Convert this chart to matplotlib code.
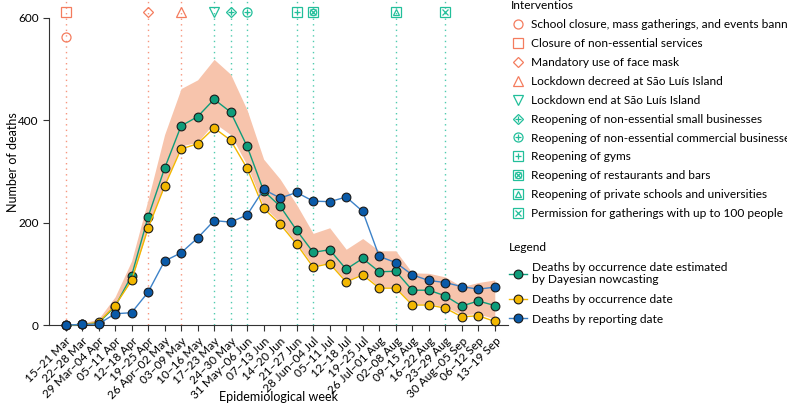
import matplotlib

matplotlib.use("Agg")
import matplotlib.pyplot as plt
from matplotlib.lines import Line2D

plt.rcParams["font.family"] = ["Lato", "DejaVu Sans"]

weeks = ["15–21 Mar", "22–28 Mar", "29 Mar–04 Apr", "05–11 Apr", "12–18 Apr", "19–25 Apr",
         "26 Apr–02 May", "03–09 May", "10–16 May", "17–23 May", "24–30 May", "31 May–06 Jun",
         "07–13 Jun", "14–20 Jun", "21–27 Jun", "28 Jun–04 Jul", "05–11 Jul", "12–18 Jul",
         "19–25 Jul", "26 Jul–01 Aug", "02–08 Aug", "09–15 Aug", "16–22 Aug", "23–29 Aug",
         "30 Aug–05 Sep", "06–12 Sep", "13–19 Sep"]

nowcast = [0, 1, 4, 36, 96, 211, 306, 389, 407, 441, 416, 349, 262, 232, 185, 142, 147, 109,
           130, 104, 105, 68, 68, 57, 37, 47, 38]
occurrence = [0, 1, 5, 38, 87, 189, 271, 344, 354, 385, 361, 306, 228, 197, 158, 113, 120, 84,
              98, 72, 72, 39, 39, 33, 16, 18, 7]
reporting = [0, 1, 2, 22, 24, 64, 125, 141, 170, 204, 201, 215, 265, 248, 259, 242, 241, 250,
             222, 134, 122, 98, 87, 83, 75, 70, 74]
band_lo = [0, 1, 5, 38, 88, 190, 275, 350, 357, 395, 372, 312, 232, 200, 160, 116, 122, 86,
           101, 74, 74, 41, 41, 36, 20, 22, 12]
band_hi = [0, 3, 12, 55, 125, 245, 372, 462, 479, 519, 490, 420, 324, 285, 235, 179, 190, 148,
           169, 145, 145, 102, 101, 94, 75, 83, 88]

interventions = ["School closure, mass gatherings, and events banned",
                 "Closure of non-essential services",
                 "Mandatory use of face mask",
                 "Lockdown decreed at São Luís Island",
                 "Lockdown end at São Luís Island",
                 "Reopening of non-essential small businesses",
                 "Reopening of non-essential commercial businesses",
                 "Reopening of gyms",
                 "Reopening of restaurants and bars",
                 "Reopening of private schools and universities",
                 "Permission for gatherings with up to 100 people"]
iv_week = [0, 0, 5, 7, 9, 10, 11, 14, 15, 20, 23]
iv_y = [562, 612, 612, 612, 612, 612, 612, 612, 612, 612, 612]
iv_shape = [["o"], ["s"], ["D"], ["^"], ["v"], ["D", "+"], ["o", "+"], ["s", "+"],
            ["s", "x", "o"], ["s", "^"], ["s", "x"]]
iv_early = [True, True, True, True, False, False, False, False, False, False, False]

SALMON, TEAL = "#F47C5E", "#22BF9A"
GREEN, YELLOW, BLUE, BLUE_LINE = "#0E9C7A", "#F2B701", "#0A5AA8", "#3D82C8"
BAND = "#F7C4AC"

fig = plt.figure(figsize=(7.87, 4.12), dpi=100)
ax = fig.add_axes([49 / 787, 87 / 412, 459 / 787, 325 / 412])
x = list(range(len(weeks)))

ax.fill_between(x, band_lo, band_hi, color=BAND, lw=0, zorder=1)

# one dotted guide per intervention week, coloured like its first marker
seen = set()
for wk, early in zip(iv_week, iv_early):
    if wk in seen:
        continue
    seen.add(wk)
    ax.axvline(wk, color=SALMON if early else TEAL, ls=(0, (1, 3)), lw=1.0, alpha=0.8, zorder=0)


def _iv_handles(shapes, color):
    hs = []
    for i, sh in enumerate(shapes):
        ms = 6.5 if i == 0 else 5.0
        if sh == "D":
            ms = 5.5 if i == 0 else 4.5
        if sh == "o" and i > 0:
            ms = 4.6
        if sh in ("^", "v") and i > 0:
            ms = 4.0
        if sh == "x":
            ms = 5.0
        hs.append(Line2D([], [], ls="none", marker=sh, ms=ms, mfc="none", mec=color, mew=0.9))
    return tuple(hs)


iv_handles = []
for wk, yy, shapes, early in zip(iv_week, iv_y, iv_shape, iv_early):
    col = SALMON if early else TEAL
    h = _iv_handles(shapes, col)
    for ln in h:
        ax.plot([wk], [yy], ls="none", marker=ln.get_marker(), ms=ln.get_markersize(),
                mfc="none", mec=col, mew=0.9, clip_on=False, zorder=5)
    iv_handles.append(h)

kw = dict(marker="o", ms=6.3, mec="#1a1a1a", mew=0.8, clip_on=False)
ax.plot(x, nowcast, color=GREEN, lw=1.0, mfc=GREEN, zorder=3, **kw)
ax.plot(x, occurrence, color=YELLOW, lw=1.0, mfc=YELLOW, zorder=4, **kw)
ax.plot(x, reporting, color=BLUE_LINE, lw=1.0, mfc=BLUE, zorder=6, **kw)

ax.set_xlim(-1.0, 26.8)
ax.set_ylim(0, 635)
ax.set_yticks([0, 200, 400, 600])
ax.set_xticks(x)
ax.set_xticklabels(weeks, rotation=45, ha="right", rotation_mode="anchor", fontsize=8.5)
ax.tick_params(axis="y", labelsize=8.5, length=4, width=0.8, color="#333333")
ax.tick_params(axis="x", length=4, width=0.8, color="#333333")
for s in ("top", "right"):
    ax.spines[s].set_visible(False)
ax.spines["left"].set_bounds(0, 600)
ax.spines["left"].set_color("#333333")
ax.spines["bottom"].set_color("#333333")
ax.set_ylabel("Number of deaths", fontsize=9)
ax.set_xlabel("Epidemiological week", fontsize=9)
ax.yaxis.set_label_coords(-0.065, 0.5)
ax.xaxis.set_label_coords(0.5, -0.203)

fig.legend(iv_handles, interventions, loc="upper left", bbox_to_anchor=(511 / 787, 0.999),
           frameon=False, title="Interventios", alignment="left", fontsize=8.6,
           title_fontsize=8.6, handlelength=1.2, handletextpad=0.5, labelspacing=0.66,
           borderaxespad=0, borderpad=0.0)

ser_handles = [Line2D([], [], color=c, lw=1.0, marker="o", ms=6.3, mfc=f, mec="#1a1a1a", mew=0.8)
               for c, f in [(GREEN, GREEN), (YELLOW, YELLOW), (BLUE_LINE, BLUE)]]
ser_labels = ["Deaths by occurrence date estimated\nby Dayesian nowcasting",
              "Deaths by occurrence date", "Deaths by reporting date"]
fig.legend(ser_handles, ser_labels, loc="upper left", bbox_to_anchor=(509 / 787, 1 - 242 / 412),
           frameon=False, title="Legend", alignment="left", fontsize=8.6, title_fontsize=8.6,
           handlelength=1.5, handletextpad=0.4, labelspacing=0.72, borderaxespad=0, borderpad=0.0)

fig.savefig("out.png", dpi=100)
